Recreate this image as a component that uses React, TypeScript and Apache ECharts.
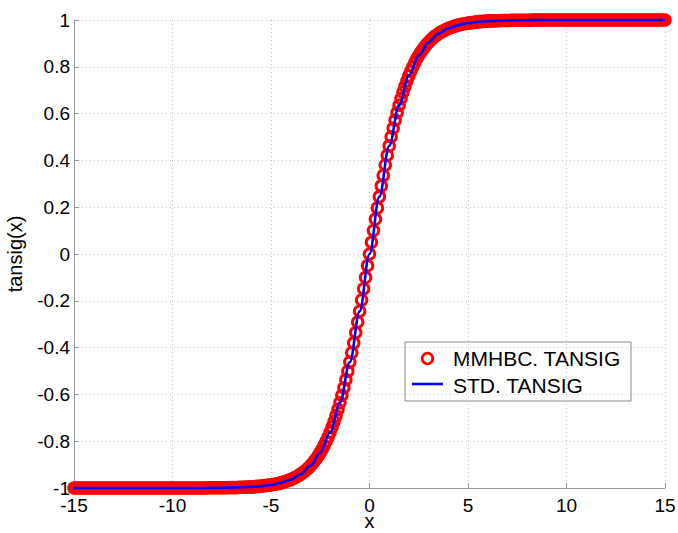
import React, { useEffect, useRef } from "react";
import * as echarts from "echarts";

const FONT = '"Liberation Sans", Arial, Helvetica, sans-serif';

// x-axis sampling of the two curves
const X_MIN = -15;
const RED_STEP = 0.1;
const BLUE_STEP = 0.5;

// MMHBC. TANSIG (red circles), x = -15 .. 15, step 0.1
const mmhbcValues: number[] = [
  -1, -1, -1, -1, -1, -1, -1, -1, -1, -1,
  -1, -1, -1, -1, -1, -1, -1, -1, -1, -1,
  -1, -1, -1, -1, -1, -1, -1, -1, -1, -1,
  -1, -1, -1, -1, -1, -1, -1, -1, -1, -1,
  -1, -1, -1, -1, -1, -1, -1, -1, -1, -1,
  -1, -1, -1, -1, -1, -1, -1, -1, -1, -1,
  -1, -1, -1, -1, -1, -1, -1, -1, -0.999, -0.999,
  -0.999, -0.999, -0.999, -0.999, -0.999, -0.999, -0.999, -0.999, -0.999, -0.998,
  -0.998, -0.998, -0.998, -0.998, -0.997, -0.997, -0.997, -0.996, -0.996, -0.996,
  -0.995, -0.995, -0.994, -0.993, -0.993, -0.992, -0.991, -0.99, -0.989, -0.988,
  -0.987, -0.985, -0.984, -0.982, -0.98, -0.978, -0.976, -0.973, -0.97, -0.967,
  -0.964, -0.96, -0.956, -0.952, -0.947, -0.941, -0.935, -0.929, -0.922, -0.914,
  -0.905, -0.896, -0.885, -0.874, -0.862, -0.848, -0.834, -0.818, -0.8, -0.782,
  -0.762, -0.74, -0.716, -0.691, -0.664, -0.635, -0.604, -0.572, -0.537, -0.501,
  -0.462, -0.422, -0.38, -0.336, -0.291, -0.245, -0.197, -0.149, -0.1, -0.05,
  0, 0.05, 0.1, 0.149, 0.197, 0.245, 0.291, 0.336, 0.38, 0.422,
  0.462, 0.501, 0.537, 0.572, 0.604, 0.635, 0.664, 0.691, 0.716, 0.74,
  0.762, 0.782, 0.8, 0.818, 0.834, 0.848, 0.862, 0.874, 0.885, 0.896,
  0.905, 0.914, 0.922, 0.929, 0.935, 0.941, 0.947, 0.952, 0.956, 0.96,
  0.964, 0.967, 0.97, 0.973, 0.976, 0.978, 0.98, 0.982, 0.984, 0.985,
  0.987, 0.988, 0.989, 0.99, 0.991, 0.992, 0.993, 0.993, 0.994, 0.995,
  0.995, 0.996, 0.996, 0.996, 0.997, 0.997, 0.997, 0.998, 0.998, 0.998,
  0.998, 0.998, 0.999, 0.999, 0.999, 0.999, 0.999, 0.999, 0.999, 0.999,
  0.999, 0.999, 0.999, 1, 1, 1, 1, 1, 1, 1,
  1, 1, 1, 1, 1, 1, 1, 1, 1, 1,
  1, 1, 1, 1, 1, 1, 1, 1, 1, 1,
  1, 1, 1, 1, 1, 1, 1, 1, 1, 1,
  1, 1, 1, 1, 1, 1, 1, 1, 1, 1,
  1, 1, 1, 1, 1, 1, 1, 1, 1, 1,
  1, 1, 1, 1, 1, 1, 1, 1, 1, 1,
  1,
];

// STD. TANSIG (blue line), x = -15 .. 15, step 0.5
const stdValues: number[] = [
  -1, -1, -1, -1, -1, -1, -1, -1, -1, -1, -1, -1, -1, -1,
  -0.999, -0.999, -0.998, -0.997, -0.995, -0.992, -0.987, -0.978,
  -0.964, -0.941, -0.905, -0.848, -0.762, -0.635, -0.462, -0.245,
  0,
  0.245, 0.462, 0.635, 0.762, 0.848, 0.905, 0.941, 0.964,
  0.978, 0.987, 0.992, 0.995, 0.997, 0.998, 0.999, 0.999,
  1, 1, 1, 1, 1, 1, 1, 1, 1, 1, 1, 1, 1, 1,
];

const xTicks = { min: -15, max: 15, interval: 5 };
const yTicks = { min: -1, max: 1, interval: 0.2 };

const seriesNames = ["MMHBC. TANSIG", "STD. TANSIG"];

const toPairs = (vals: number[], step: number) =>
  vals.map((v, i) => [Math.round((X_MIN + i * step) * 100) / 100, v]);

export default function App() {
  const ref = useRef<HTMLDivElement>(null);

  useEffect(() => {
    if (!ref.current) return;
    const chart = echarts.init(ref.current, undefined, {
      renderer: "svg",
      width: 678,
      height: 533,
    });
    const axisGray = "#9a9a9a";
    const gridLine = {
      show: true,
      lineStyle: { color: "#c4c4c4", type: [1, 3] as any, width: 1 },
    };
    chart.setOption({
      animation: false,
      backgroundColor: "#ffffff",
      textStyle: { fontFamily: FONT },
      grid: {
        left: 74,
        top: 20,
        width: 591,
        height: 468,
        containLabel: false,
        outerBoundsMode: "none",
      },
      xAxis: {
        type: "value",
        min: xTicks.min,
        max: xTicks.max,
        interval: xTicks.interval,
        name: "x",
        nameLocation: "middle",
        nameGap: 26,
        nameMoveOverlap: false,
        nameTextStyle: {
          fontSize: 20,
          lineHeight: 14,
          color: "#000",
          fontFamily: FONT,
        },
        axisLine: { onZero: false, lineStyle: { color: axisGray, width: 1 } },
        axisTick: { inside: true, length: 5, lineStyle: { color: axisGray } },
        axisLabel: {
          color: "#000",
          fontSize: 19,
          lineHeight: 16,
          margin: 9,
          fontFamily: FONT,
        },
        splitLine: gridLine,
      },
      yAxis: {
        type: "value",
        min: yTicks.min,
        max: yTicks.max,
        interval: yTicks.interval,
        name: "tansig(x)",
        nameLocation: "middle",
        nameRotate: 90,
        nameGap: 49,
        nameTextStyle: { fontSize: 20, color: "#000", fontFamily: FONT },
        axisLine: { onZero: false, lineStyle: { color: axisGray, width: 1 } },
        axisTick: { inside: true, length: 5, lineStyle: { color: axisGray } },
        axisLabel: {
          color: "#000",
          fontSize: 19,
          lineHeight: 15,
          margin: 4,
          fontFamily: FONT,
        },
        splitLine: gridLine,
      },
      series: [
        {
          name: seriesNames[0],
          type: "scatter",
          data: toPairs(mmhbcValues, RED_STEP),
          symbol: "circle",
          symbolSize: 10.5,
          clip: false,
          silent: true,
          itemStyle: {
            color: "rgba(0,0,0,0)",
            borderColor: "#ff0000",
            borderWidth: 3,
            opacity: 1,
          },
          z: 2,
        },
        {
          name: seriesNames[1],
          type: "line",
          data: toPairs(stdValues, BLUE_STEP),
          showSymbol: false,
          symbol: "none",
          smooth: 0.35,
          smoothMonotone: "x",
          clip: false,
          silent: true,
          lineStyle: { color: "#0000ff", width: 2.6 },
          z: 3,
        },
      ],
      graphic: [
        {
          type: "group",
          z: 100,
          children: [
            {
              type: "rect",
              shape: { x: 405, y: 342, width: 226, height: 59 },
              style: { fill: "#ffffff", stroke: "#8a8a8a", lineWidth: 1 },
            },
            {
              type: "circle",
              shape: { cx: 427.5, cy: 358.5, r: 5.3 },
              style: { fill: "none", stroke: "#ff0000", lineWidth: 2.8 },
            },
            {
              type: "text",
              x: 453,
              y: 358,
              style: {
                text: seriesNames[0],
                fontSize: 21,
                fontFamily: FONT,
                fill: "#000",
                verticalAlign: "middle",
                align: "left",
              },
            },
            {
              type: "line",
              shape: { x1: 412, y1: 384, x2: 443, y2: 384 },
              style: { stroke: "#0000ff", lineWidth: 2.6 },
            },
            {
              type: "text",
              x: 453,
              y: 385,
              style: {
                text: seriesNames[1],
                fontSize: 21,
                fontFamily: FONT,
                fill: "#000",
                verticalAlign: "middle",
                align: "left",
              },
            },
          ],
        },
      ],
    });
    return () => chart.dispose();
  }, []);

  return (
    <div
      ref={ref}
      style={{ position: "fixed", left: 0, top: 0, width: 678, height: 533 }}
    />
  );
}
